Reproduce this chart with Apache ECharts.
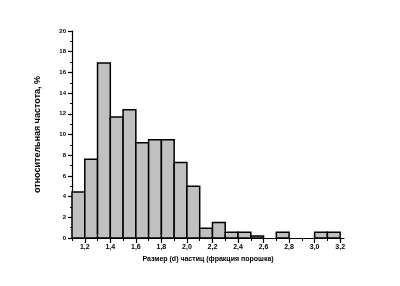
<!DOCTYPE html>
<html><head><meta charset="utf-8">
<script src="https://cdn.jsdelivr.net/npm/echarts@6/dist/echarts.min.js"></script>
<style>html,body{margin:0;padding:0;background:#fff}#c{width:400px;height:286px}</style>
</head><body><div id="c"></div>
<script>
var binStarts = [1.1,1.2,1.3,1.4,1.5,1.6,1.7,1.8,1.9,2.0,2.1,2.2,2.3,2.4,2.5,2.6,2.7,2.8,2.9,3.0,3.1];
var binWidth = 0.1;
var frequency = [4.45,7.6,16.9,11.7,12.4,9.2,9.5,9.5,7.3,5.0,0.95,1.5,0.55,0.55,0.2,0,0.55,0,0,0.55,0.55];
var xMajorTicks = [1.2,1.4,1.6,1.8,2.0,2.2,2.4,2.6,2.8,3.0,3.2];
var xMinorTicks = [1.1,1.3,1.5,1.7,1.9,2.1,2.3,2.5,2.7,2.9,3.1];
var xTitle = 'Размер (d) частиц (фракция порошка)';
var yTitle = 'относительная частота, %';

var font = 'Liberation Sans';
var chart = echarts.init(document.getElementById('c'), null, {renderer:'canvas'});
var data = binStarts.map(function(s,i){return [s, frequency[i]];});
chart.setOption({
  animation:false,
  backgroundColor:'#fff',
  grid:{left:72,right:56,top:31,bottom:48,containLabel:false},
  xAxis:[{
    type:'value', min:1.1, max:3.23, position:'bottom',
    axisLine:{lineStyle:{color:'#000',width:1.2}},
    axisTick:{show:true,customValues:xMajorTicks,length:5,lineStyle:{color:'#000',width:1.2}},
    axisLabel:{customValues:xMajorTicks,color:'#000',fontFamily:font,fontWeight:'bold',fontSize:7,margin:6,
      formatter:function(v){return v.toFixed(1).replace('.',',');}},
    splitLine:{show:false},
    name:xTitle, nameLocation:'middle', nameGap:16,
    nameTextStyle:{color:'#000',fontFamily:font,fontWeight:'bold',fontSize:7}
  },{
    type:'value', min:1.1, max:3.23, position:'bottom',
    axisLine:{show:false},
    axisTick:{show:true,customValues:xMinorTicks,length:3,lineStyle:{color:'#000',width:1}},
    axisLabel:{show:false}, splitLine:{show:false}
  }],
  yAxis:{
    type:'value', min:0, max:20, interval:2,
    axisLine:{show:true,lineStyle:{color:'#000',width:1.2}},
    axisTick:{show:true,length:4,lineStyle:{color:'#000',width:1.2}},
    minorTick:{show:true,splitNumber:2,length:2,lineStyle:{color:'#000',width:1}},
    axisLabel:{color:'#000',fontFamily:font,fontWeight:'bold',fontSize:6,margin:6},
    splitLine:{show:false},
    name:yTitle, nameLocation:'middle', nameGap:30, nameRotate:90,
    nameTextStyle:{color:'#000',fontFamily:font,fontWeight:'bold',fontSize:9}
  },
  series:[{
    type:'custom', xAxisIndex:0, yAxisIndex:0,
    data:data,
    encode:{x:0,y:1},
    renderItem:function(params, api){
      var s = api.value(0), v = api.value(1);
      if (v <= 0) return null;
      var p0 = api.coord([s, v]);
      var p1 = api.coord([s + binWidth, 0]);
      return {type:'rect', shape:{x:p0[0], y:p0[1], width:p1[0]-p0[0], height:p1[1]-p0[1]},
        style:{fill:'#c0c0c0', stroke:'#000', lineWidth:1.5}};
    }
  }]
});
</script></body></html>
